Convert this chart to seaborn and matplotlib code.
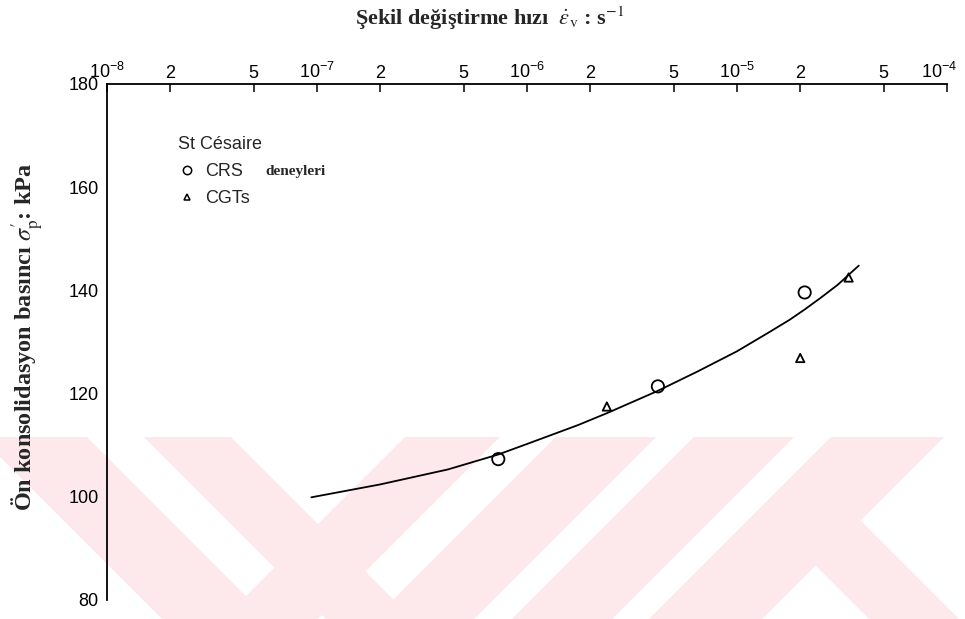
import numpy as np
import pandas as pd
import seaborn as sns
import matplotlib
matplotlib.use("Agg")
import matplotlib.pyplot as plt
import matplotlib.transforms as mtransforms
from matplotlib.patches import Polygon
from matplotlib.lines import Line2D
from matplotlib.ticker import FixedLocator, NullLocator

# --- data -------------------------------------------------------------
# CRS tests (constant rate of strain)
crs_rate = [7.3e-7, 4.2e-6, 2.1e-5]
crs_sigma = [107.3, 121.4, 139.6]

# CGT tests
cgt_rate = [2.4e-6, 2.0e-5, 3.4e-5]
cgt_sigma = [117.5, 126.9, 142.5]

# trend curve through the test results
curve_rate = [9.4e-8, 2.0e-7, 4.2e-7, 7.3e-7, 1.01e-6, 1.75e-6, 2.4e-6,
              4.18e-6, 6.5e-6, 1.0e-5, 1.41e-5, 1.78e-5, 2.1e-5, 2.51e-5,
              3.02e-5, 3.8e-5]
curve_sigma = [99.9, 102.4, 105.3, 108.2, 110.3, 113.9, 116.2,
               120.5, 124.3, 128.2, 131.8, 134.3, 136.3, 138.6,
               141.1, 144.8]

# axis ticks
x_ticks = [1e-8, 2e-8, 5e-8, 1e-7, 2e-7, 5e-7, 1e-6, 2e-6, 5e-6,
           1e-5, 2e-5, 5e-5, 1e-4]
x_tick_labels = [r"10$^{-8}$", "2", "5", r"10$^{-7}$", "2", "5", r"10$^{-6}$",
                 "2", "5", r"10$^{-5}$", "2", "5", r"10$^{-4}$"]
y_ticks = [80, 100, 120, 140, 160, 180]

crs_df = pd.DataFrame({"rate": crs_rate, "sigma": crs_sigma})
cgt_df = pd.DataFrame({"rate": cgt_rate, "sigma": cgt_sigma})
curve_df = pd.DataFrame({"rate": curve_rate, "sigma": curve_sigma})

# --- style --------------------------------------------------------------
sns.set_style("white")
plt.rcParams["font.family"] = ["Liberation Sans", "DejaVu Sans"]
plt.rcParams["mathtext.fontset"] = "custom"
plt.rcParams["mathtext.rm"] = "Liberation Sans"
plt.rcParams["mathtext.it"] = "Liberation Sans:italic"
plt.rcParams["mathtext.bf"] = "Liberation Sans:bold"

W, H = 965, 619
fig = plt.figure(figsize=(W / 100, H / 100), dpi=100)
fig.patch.set_facecolor("white")


def fx(x):
    return x / W


def fy(y):
    return 1 - y / H


# pale background emblem in the lower part of the page
wm_color = "#fde8ec"
y_a, y_b = 437, 640


def band(a, b, slant, ya=y_a, yb=y_b):
    d = (yb - ya) * slant
    pts = [(a, ya), (b, ya), (b + d, yb), (a + d, yb)]
    return Polygon([(fx(x), fy(y)) for x, y in pts], closed=True,
                   transform=fig.transFigure, facecolor=wm_color,
                   edgecolor="none", zorder=-5)


for a, b, s in [(-20, 87, 1), (144, 231, 1), (405, 500, -1),
                (556, 656, -1), (694, 794, -1), (831, 944, -1)]:
    fig.add_artist(band(a, b, s))
fig.add_artist(band(770, 860, 1, ya=520))

# --- axes -----------------------------------------------------------------
ax = fig.add_axes([fx(107), fy(600), fx(947) - fx(107), fy(84) - fy(600)])
ax.patch.set_alpha(0)
ax.set_xscale("log")
ax.set_xlim(1e-8, 1e-4)
ax.set_ylim(80, 180)

sns.lineplot(data=curve_df, x="rate", y="sigma", ax=ax, color="black",
             linewidth=1.3, sort=False, estimator=None, legend=False)
sns.scatterplot(data=crs_df, x="rate", y="sigma", ax=ax, marker="o", s=78,
                color="black", facecolor="none", edgecolor="black",
                linewidth=1.3, legend=False, zorder=3)
sns.scatterplot(data=cgt_df, x="rate", y="sigma", ax=ax, marker="^", s=36,
                color="black", facecolor="none", edgecolor="black",
                linewidth=1.3, legend=False, zorder=3)

# spines: left and top only
for side in ["right", "bottom"]:
    ax.spines[side].set_visible(False)
for side in ["left", "top"]:
    ax.spines[side].set_color("black")
    ax.spines[side].set_linewidth(1.3)

ax.xaxis.set_ticks_position("top")
ax.xaxis.set_label_position("top")
ax.xaxis.set_major_locator(FixedLocator(x_ticks))
ax.xaxis.set_minor_locator(NullLocator())
ax.set_xticklabels(x_tick_labels)
ax.set_yticks(y_ticks)
ax.tick_params(axis="x", which="major", direction="in", length=6, width=1.1,
               pad=1.5, labelsize=13, colors="black")
ax.tick_params(axis="y", which="major", direction="in", length=6.5, width=1.3,
               pad=6, labelsize=13, colors="black")
ax.set_xlabel("")
ax.set_ylabel("")

# keep the last decade label inside the page
last = ax.get_xticklabels()[-1]
last.set_transform(last.get_transform() +
                   mtransforms.ScaledTranslation(-6 / 72, 0,
                                                 fig.dpi_scale_trans))

# axis titles
fig.text(fx(490), fy(18),
         "Şekil değiştirme hızı  $\\dot{\\varepsilon}_{\\mathrm{v}}$ : s$^{-1}$",
         ha="center", va="center", fontsize=16, fontweight="bold",
         family="Liberation Serif", math_fontfamily="stix")
fig.text(fx(28), fy(337),
         "Ön konsolidasyon basıncı $\\sigma_{\\mathrm{p}}^{\\prime}$: kPa",
         ha="center", va="center", rotation=90, fontsize=17.5,
         fontweight="bold", family="Liberation Serif", math_fontfamily="stix")

# legend
handles = [
    Line2D([], [], marker="o", ls="none", mfc="none", mec="black", ms=6,
           mew=1.1),
    Line2D([], [], marker="^", ls="none", mfc="none", mec="black", ms=5,
           mew=1.1),
]
leg = ax.legend(handles, ["CRS", "CGTs"], title="St Césaire",
                loc="upper left", bbox_to_anchor=(fx(178), fy(136)),
                bbox_transform=fig.transFigure, frameon=False, fontsize=13,
                title_fontsize=13, handlelength=1.0, handletextpad=0.5,
                labelspacing=0.55, borderpad=0, borderaxespad=0,
                alignment="left")
fig.text(fx(265), fy(171), "deneyleri", ha="left", va="center", fontsize=11,
         fontweight="bold", family="Liberation Serif")

fig.savefig("out.png", dpi=100)
